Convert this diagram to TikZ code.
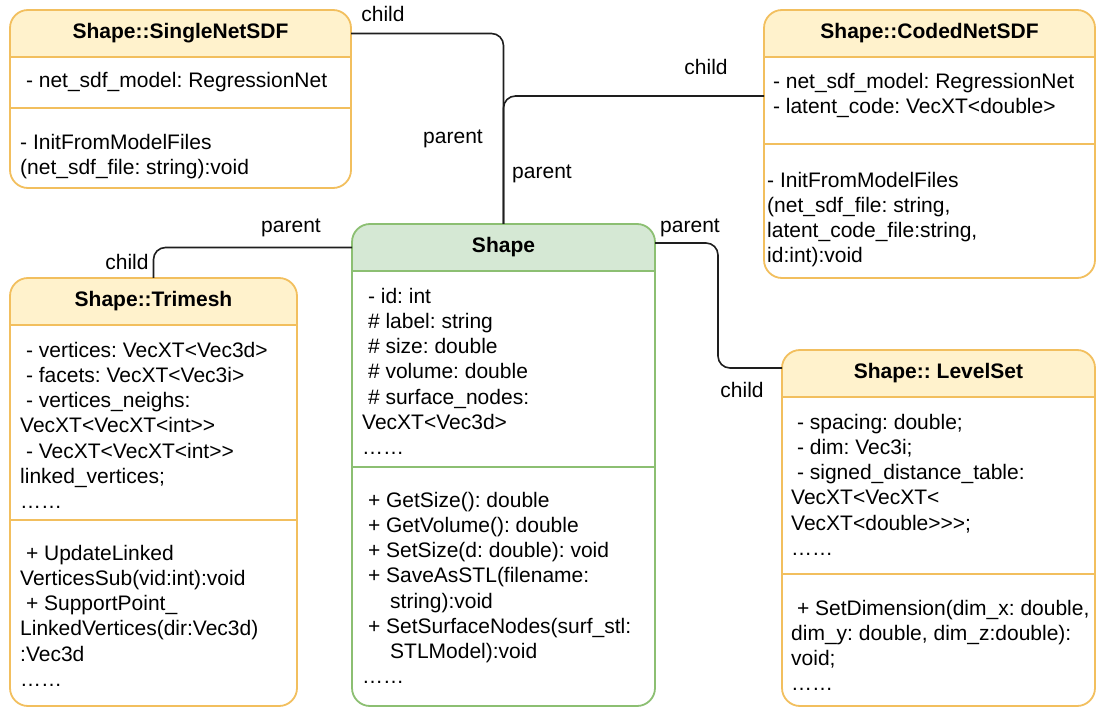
\documentclass[tikz,border=0pt]{standalone}
\usepackage{fontspec}
\newfontfamily\umlfamily{Liberation Sans}
\usepackage{tikz}
\usetikzlibrary{positioning}
\definecolor{umlOrange}{HTML}{F2BF5E}
\definecolor{umlOrangeFill}{HTML}{FFF2CC}
\definecolor{umlGreen}{HTML}{8CBF72}
\definecolor{umlGreenFill}{HTML}{D5E8D4}
\definecolor{umlLink}{HTML}{1E1E1E}
\newcommand{\umlfont}{\umlfamily\fontsize{21}{25.2}\selectfont\frenchspacing}

\begin{document}
\begin{tikzpicture}[
        x=1pt, y=-1pt,
        font=\umlfont,
        classbox/.style={draw=#1, line width=1.8pt, rounded corners=18pt, fill=white, outer sep=0pt, inner sep=0pt, anchor=north west,
            path picture={
                \fill[#1Fill, sharp corners] (path picture bounding box.north west) rectangle ([yshift=-47pt]path picture bounding box.north east);
                \draw[#1, sharp corners, line width=1.8pt] ([yshift=-47pt]path picture bounding box.north west) -- ([yshift=-47pt]path picture bounding box.north east);
            }},
        divider/.style={draw=#1, line width=1.8pt},
        title/.style={font=\umlfont\bfseries, inner sep=0pt},
        members/.style={anchor=north west, align=left, inner sep=0pt},
        link/.style={draw=umlLink, line width=1.6pt, rounded corners=12pt},
        role/.style={inner sep=0pt},
    ]
        \useasboundingbox (0,0) rectangle (1097,708);

        % Classes
        \node[classbox=umlOrange, minimum width=341pt, minimum height=178pt] (single) at (10,10) {};
        \node[classbox=umlOrange, minimum width=331pt, minimum height=268pt] (coded) at (764,10) {};
        \node[classbox=umlOrange, minimum width=287pt, minimum height=428pt] (trimesh) at (10,278) {};
        \node[classbox=umlGreen, minimum width=303pt, minimum height=482pt] (shape) at (352,224) {};
        \node[classbox=umlOrange, minimum width=313pt, minimum height=356pt] (levelset) at (782,350) {};

        % Dividers between attributes and methods
        \draw[divider=umlOrange] ([yshift=-98pt]single.north west) -- ([yshift=-98pt]single.north east);
        \draw[divider=umlOrange] ([yshift=-134pt]coded.north west) -- ([yshift=-134pt]coded.north east);
        \draw[divider=umlOrange] ([yshift=-242pt]trimesh.north west) -- ([yshift=-242pt]trimesh.north east);
        \draw[divider=umlGreen] ([yshift=-243pt]shape.north west) -- ([yshift=-243pt]shape.north east);
        \draw[divider=umlOrange] ([yshift=-224pt]levelset.north west) -- ([yshift=-224pt]levelset.north east);

        % Titles
        \node[title] (single-t) at ([yshift=-23.5pt]single.north) {Shape::SingleNetSDF};
        \node[title] (coded-t) at ([yshift=-23.5pt]coded.north) {Shape::CodedNetSDF};
        \node[title] (trimesh-t) at ([yshift=-23.5pt]trimesh.north) {Shape::Trimesh};
        \node[title] (shape-t) at ([yshift=-23.5pt]shape.north) {Shape};
        \node[title] (levelset-t) at ([yshift=-23.5pt]levelset.north) {Shape:: LevelSet};

        % Attributes
        \node[members] (single-a) at (20,69.5) {\strut\ - net\_sdf\_model: RegressionNet};
        \node[members] (coded-a) at (767,70.5) {\strut\ - net\_sdf\_model: RegressionNet\\\ - latent\_code: VecXT<double>};
        \node[members] (trimesh-a) at (20,339.5) {\strut\ - vertices: VecXT<Vec3d>\\\ - facets: VecXT<Vec3i>\\\ - vertices\_neighs:\\VecXT<VecXT<int>{}>\\\ - VecXT<VecXT<int>{}>\\linked\_vertices;\\……};
        \node[members] (shape-a) at (362,285.5) {\strut\ - id: int\\\ \# label: string\\\ \# size: double\\\ \# volume: double\\\ \# surface\_nodes:\\VecXT<Vec3d>\\……};
        \node[members] (levelset-a) at (791,411.5) {\strut\ - spacing: double;\\\ - dim: Vec3i;\\\ - signed\_distance\_table:\\VecXT<VecXT<\\VecXT<double>{}>{}>;\\……};

        % Methods
        \node[members] (single-m) at (20,131.5) {\strut - InitFromModelFiles\\(net\_sdf\_file: string):void};
        \node[members] (coded-m) at (767,169.5) {\strut - InitFromModelFiles\\(net\_sdf\_file: string,\\latent\_code\_file:string,\\id:int):void};
        \node[members] (trimesh-m) at (20,542.5) {\strut\ + UpdateLinked\\VerticesSub(vid:int):void\\\ + SupportPoint\_\\LinkedVertices(dir:Vec3d)\\:Vec3d\\……};
        \node[members] (shape-m) at (362,489.5) {\strut\ + GetSize(): double\\\ + GetVolume(): double\\\ + SetSize(d: double): void\\\ + SaveAsSTL(filename:\\\hspace*{28pt}string):void\\\ + SetSurfaceNodes(surf\_stl:\\\hspace*{28pt}STLModel):void\\……};
        \node[members] (levelset-m) at (791,597.5) {\strut\ + SetDimension(dim\_x: double,\\dim\_y: double, dim\_z:double):\\void;\\……};

        % Links: children -> parent
        \draw[link] (single-t -| single.east) -| (shape.north);
        \draw[link] ([yshift=-86pt]coded.north west) -| (shape.north);
        \draw[link] (shape-t -| shape.west) -| (trimesh.north);
        \draw[link] ([yshift=-19pt]shape.north east) -- ++(63,0) |- ([yshift=-18pt]levelset.north west);

        % Roles
        \node[role] (r-single) at (383,14) {child};
        \node[role] (r-shape1) at (453,139) {parent};
        \node[role] (r-coded) at (706,67) {child};
        \node[role] (r-shape2) at (542,174) {parent};
        \node[role] (r-shape3) at (291,228) {parent};
        \node[role] (r-trimesh) at (127,262) {child};
        \node[role] (r-shape4) at (690,228) {parent};
        \node[role] (r-levelset) at (742,390) {child};

    \end{tikzpicture}
\end{document}
